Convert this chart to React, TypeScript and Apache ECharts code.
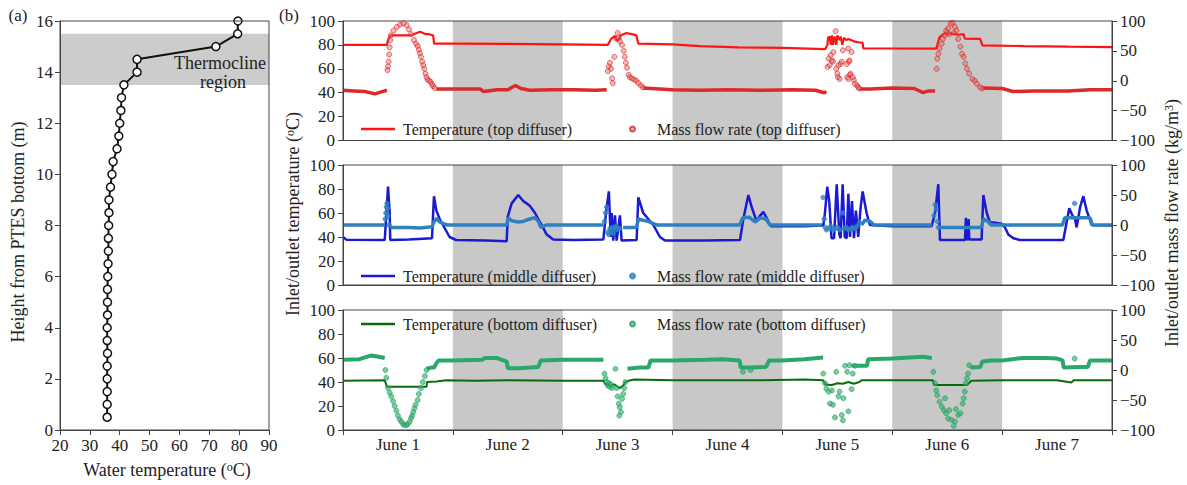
import React, { useEffect, useRef } from "react";
import * as echarts from "echarts";

// ---------- Panel (a): temperature profile ----------
const profileHeight = [0.5, 1, 1.5, 2, 2.5, 3, 3.5, 4, 4.5, 5, 5.5, 6, 6.5, 7, 7.5, 8, 8.5, 9, 9.5, 10, 10.5, 11, 11.5, 12, 12.5, 13, 13.5, 14, 14.5, 15, 15.5, 16];
const profileTemp = [35.8, 35.8, 35.8, 35.8, 35.8, 35.9, 35.8, 35.8, 35.9, 35.9, 35.9, 36.0, 36.1, 36.2, 36.2, 36.3, 36.4, 36.4, 36.9, 37.4, 37.8, 39.1, 39.7, 40.0, 40.4, 40.6, 41.4, 45.8, 45.8, 72.2, 79.5, 79.6];
const thermoclineRange = [13.5, 15.5];

// ---------- Panel (b): time series, x = days since June 1 00:00 ----------
const dayLabels = ["June 1", "June 2", "June 3", "June 4", "June 5", "June 6", "June 7"];
const shadedDays = [[1, 2], [3, 4], [5, 6]];

// top diffuser temperature (°C)
const topTemp = [
  [0, 80], [0.40, 80], [0.41, 84], [0.43, 88], [0.5, 88], [0.62, 88], [0.66, 89.5], [0.7, 91], [0.73, 90], [0.75, 89], [0.78, 89], [0.80, 88.5], [0.82, 88], [0.83, 81],
  [1.0, 81], [1.5, 80.8], [2.0, 80.5], [2.41, 80], [2.44, 85], [2.476, 87.5], [2.49, 84], [2.506, 84], [2.53, 88], [2.58, 90], [2.63, 89], [2.67, 88], [2.688, 81],
  [3.0, 80.5], [3.25, 79], [3.6, 78], [4.0, 77.5], [4.39, 76.5],
  [4.41, 80], [4.415, 86], [4.43, 87], [4.44, 80], [4.45, 88], [4.46, 80], [4.475, 87], [4.49, 80], [4.50, 88], [4.52, 84], [4.53, 87], [4.545, 80], [4.56, 86], [4.58, 84], [4.6, 85], [4.65, 83], [4.7, 82], [4.73, 82], [4.736, 77],
  [5.0, 77], [5.40, 76.8], [5.43, 86.6], [5.47, 89.4], [5.55, 89.4], [5.6, 88.5], [5.65, 89], [5.66, 85.2], [5.8, 85], [5.82, 79.6], [6.2, 79], [6.6, 78.5], [7, 78.2],
];
// top diffuser mass flow rate (kg/m3): dense trail and sparse dots
const topFlowTrail = [
  [0, -16], [0.1, -17], [0.2, -18], [0.29, -22], [0.34, -19], [0.4, -16], [0.405, null],
  [0.85, -14], [1.0, -14], [1.25, -14], [1.28, -18], [1.4, -15], [1.5, -15], [1.57, -8], [1.62, -13], [1.7, -16], [1.9, -15], [2.1, -15], [2.3, -16], [2.40, -15], [2.405, null],
  [2.73, -12], [3.0, -15], [3.25, -16], [3.5, -15], [3.8, -16], [4.1, -15], [4.3, -16], [4.38, -20], [4.40, -18], [4.405, null],
  [4.70, -14], [4.8, -14], [5.0, -12], [5.2, -13], [5.28, -20], [5.33, -17], [5.39, -17], [5.395, null],
  [5.82, -12], [6.0, -13], [6.1, -18], [6.3, -17], [6.6, -17], [6.8, -15], [7, -15],
];
const topFlowDots = [
  [0.405, 18], [0.41, 24], [0.415, 32], [0.42, 44], [0.425, 56], [0.43, 68], [0.435, 76], [0.46, 84], [0.49, 90], [0.52, 94], [0.55, 96], [0.58, 93], [0.60, 86], [0.62, 78],
  [0.646, 68], [0.665, 62], [0.68, 58], [0.69, 52], [0.70, 46], [0.71, 40], [0.72, 32], [0.73, 26], [0.74, 20], [0.75, 12], [0.76, 6], [0.77, 2], [0.785, 0], [0.80, -2], [0.81, -6], [0.82, -9], [0.835, -12],
  [2.41, 16], [2.42, 24], [2.43, 30], [2.44, 20], [2.45, 4], [2.455, -4], [2.47, 40], [2.49, 70], [2.5, 80], [2.51, 72], [2.52, 66], [2.54, 60], [2.555, 50], [2.565, 40], [2.575, 30], [2.585, 22], [2.60, 10], [2.61, 6], [2.63, 4], [2.65, 2], [2.67, 0], [2.69, -4], [2.71, -8], [2.73, -11],
  [4.41, 23], [4.42, 37], [4.43, 26], [4.44, 43], [4.45, 34], [4.46, 32], [4.465, 48], [4.485, 83], [4.49, 20], [4.50, 12], [4.505, 6], [4.51, 26], [4.52, 3], [4.53, 28], [4.54, 32], [4.55, 51], [4.585, 28], [4.59, 6], [4.60, 3], [4.60, 54], [4.605, 32], [4.61, 34], [4.615, 10], [4.62, 12], [4.63, 48], [4.64, 6], [4.65, 1], [4.66, -5], [4.68, -8], [4.69, -11], [4.70, -13],
  [5.404, 20], [5.41, 37], [5.42, 45], [5.43, 54], [5.45, 62], [5.46, 70], [5.48, 76], [5.49, 84], [5.50, 80], [5.51, 88], [5.52, 78], [5.53, 96], [5.55, 97], [5.56, 80], [5.57, 90], [5.585, 84], [5.6, 70], [5.62, 57], [5.635, 45], [5.65, 40], [5.665, 29], [5.68, 20], [5.70, 12], [5.73, 3], [5.75, 0], [5.77, -5], [5.8, -11], [5.82, -13],
];

// middle diffuser temperature (°C)
const midTemp = [
  [0, 40], [0.03, 37.8], [0.38, 37.5], [0.395, 60], [0.41, 82], [0.425, 60], [0.43, 37.5], [0.6, 38], [0.81, 39], [0.828, 74], [0.85, 62], [0.88, 55], [0.91, 50], [0.94, 45], [0.97, 40], [1.03, 37.5],
  [1.3, 37], [1.49, 36.5], [1.50, 57], [1.535, 68], [1.596, 75], [1.64, 70], [1.687, 67], [1.70, 66], [1.748, 60], [1.778, 55], [1.82, 48], [1.854, 42], [1.914, 38], [2.1, 37.5],
  [2.37, 38], [2.394, 60], [2.42, 78], [2.437, 40], [2.446, 60], [2.46, 37], [2.476, 58], [2.491, 37], [2.521, 58], [2.536, 37], [2.673, 37.5], [2.688, 73], [2.733, 60], [2.779, 55], [2.824, 50], [2.855, 45], [2.885, 40], [2.931, 37],
  [3.3, 37], [3.614, 37.5], [3.644, 55], [3.69, 75], [3.72, 65], [3.75, 57], [3.765, 53], [3.79, 57], [3.826, 61], [3.856, 56], [3.887, 50], [3.9, 49], [4.2, 49], [4.372, 49.5],
  [4.387, 60], [4.408, 82], [4.426, 70], [4.447, 39], [4.47, 39], [4.494, 84], [4.518, 42], [4.53, 39], [4.548, 84], [4.567, 40], [4.585, 39], [4.6, 76], [4.615, 40], [4.633, 70], [4.651, 39], [4.669, 62], [4.69, 40], [4.711, 64], [4.73, 78], [4.766, 60], [4.796, 50],
  [5.0, 49], [5.358, 49], [5.389, 60], [5.419, 84], [5.434, 37.5], [5.662, 37.5], [5.67, 56], [5.68, 38], [5.69, 38], [5.695, 55], [5.70, 38], [5.813, 38], [5.829, 75], [5.86, 60], [5.89, 52], [5.92, 52],
  [5.996, 51], [6.026, 48], [6.056, 42], [6.102, 39], [6.162, 37.5], [6.557, 37.5], [6.611, 64], [6.64, 58], [6.663, 55], [6.678, 48], [6.71, 65], [6.739, 74], [6.77, 62], [6.815, 50], [7, 49.5],
];
const midFlowTrail = [
  [0, 0], [0.38, 0], [0.385, null],
  [0.43, -4], [0.6, -4], [0.7, -5], [0.81, -3], [0.83, 6], [0.853, 11], [0.88, 5], [0.92, 2], [0.95, 0], [1.49, 0], [1.505, 12], [1.535, 7], [1.596, 5], [1.64, 6], [1.70, 10], [1.748, 12], [1.778, 6], [1.80, -4], [1.85, 0], [2.37, 0], [2.375, null],
  [2.55, -4], [2.67, -4], [2.69, 10], [2.73, 8], [2.78, 6], [2.83, 2], [2.86, 0], [3.61, 0], [3.64, 12], [3.7, 13], [3.75, 5], [3.8, 12], [3.85, 10], [3.887, 0], [4.36, 0], [4.365, null],
  [4.72, 0], [4.75, 8], [4.8, 6], [4.83, 0], [5.36, 0], [5.365, null],
  [5.43, -4], [5.81, -4], [5.83, 10], [5.87, 6], [5.9, 0], [6.55, 0], [6.57, 12], [6.8, 12], [6.82, 0], [7, 0],
];
const midFlowDots = [
  [0.385, 10], [0.39, 20], [0.395, 30], [0.40, 36], [0.405, 28], [0.41, 15], [0.42, 0],
  [2.38, 6], [2.39, 20], [2.40, 30], [2.41, -12], [2.42, -16], [2.43, -6], [2.44, -10], [2.45, -4], [2.46, -14], [2.47, -6], [2.48, -2], [2.49, -8], [2.50, -4], [2.52, -6],
  [4.37, 46], [4.38, 10], [4.39, -4], [4.40, -8], [4.42, -6], [4.44, -2], [4.46, -8], [4.48, -6], [4.50, -4], [4.52, -8], [4.55, 20], [4.56, -6], [4.58, -4], [4.60, -8], [4.62, -6], [4.64, -4], [4.66, -6], [4.68, -2], [4.70, 4],
  [5.38, 16], [5.39, 34], [5.40, 26], [5.41, 6], [5.42, -4],
  [6.66, 36],
];

// bottom diffuser temperature (°C)
const botTemp = [
  [0, 41], [0.38, 41.5], [0.40, 36], [0.6, 36], [0.76, 36], [0.765, 40], [0.85, 40.5], [0.94, 41.5], [1.2, 41], [1.5, 41.5], [2.0, 41], [2.37, 41],
  [2.39, 38], [2.43, 37], [2.47, 38], [2.50, 36], [2.52, 35], [2.55, 37], [2.57, 40], [2.6, 41], [2.65, 42], [3.0, 41.5], [3.5, 41.5], [3.8, 41.5], [4.2, 42], [4.37, 41.5],
  [4.39, 38], [4.45, 37.5], [4.5, 39], [4.55, 38.5], [4.6, 40], [4.65, 38.5], [4.7, 40], [4.72, 41.5], [5.0, 41.5], [5.37, 41.5],
  [5.38, 37.5], [5.68, 37.5], [5.72, 41], [6.0, 41.5], [6.5, 41.5], [6.63, 39.5], [6.65, 41.5], [7, 41.5],
];
const botFlowTrail = [
  [0, 17], [0.15, 18], [0.25, 24], [0.3, 23], [0.38, 20], [0.385, null],
  [0.76, 2], [0.8, 4], [0.83, 4], [0.845, 10], [0.87, 16], [1.0, 16], [1.27, 17], [1.29, 20], [1.4, 20], [1.46, 16], [1.49, 14], [1.5, 3], [1.6, 3], [1.7, 4], [1.778, 5], [1.80, 16], [2.0, 17], [2.2, 17], [2.37, 17], [2.375, null],
  [2.59, 2], [2.7, 4], [2.78, 4], [2.80, 16], [3.0, 16], [3.3, 17], [3.45, 18], [3.61, 16], [3.62, 4], [3.7, 4], [3.85, 5], [3.88, 16], [4.0, 16], [4.2, 18], [4.37, 21], [4.375, null],
  [4.63, 7], [4.77, 7], [4.78, 18], [5.0, 19], [5.28, 22], [5.36, 20], [5.365, null],
  [5.71, 4], [5.80, 5], [5.82, 14], [5.9, 16], [6.0, 16], [6.19, 20], [6.4, 20], [6.5, 19], [6.55, 16], [6.56, 4], [6.7, 5], [6.78, 5], [6.80, 16], [7, 16],
];
const botFlowDots = [
  [0.386, 0], [0.395, -13], [0.41, -30], [0.425, -38], [0.44, -44], [0.456, -52], [0.47, -60], [0.486, -68], [0.50, -76], [0.516, -82], [0.53, -86], [0.547, -90], [0.56, -92], [0.577, -92], [0.59, -90],
  [0.607, -86], [0.62, -80], [0.63, -76], [0.64, -70], [0.65, -64], [0.66, -58], [0.68, -50], [0.69, -40], [0.71, -30], [0.727, -20], [0.745, -10], [0.76, 0],
  [2.38, -6], [2.39, -14], [2.40, -20], [2.41, -26], [2.42, -22], [2.43, -28], [2.44, -24], [2.45, -30], [2.48, 2], [2.49, -30], [2.50, -44], [2.51, -56], [2.515, -76], [2.52, -62], [2.53, -70], [2.54, -48], [2.55, -40], [2.56, -30], [2.57, -20],
  [3.64, -3], [3.71, 0],
  [4.372, -6], [4.387, -22], [4.40, -31], [4.42, -36], [4.433, -56], [4.45, -34], [4.46, -58], [4.478, -79], [4.49, -3], [4.51, -44], [4.52, -36], [4.54, -75], [4.55, -84], [4.555, -47], [4.57, 7], [4.59, -3], [4.60, -69], [4.61, 8], [4.63, -32], [4.64, -6], [4.66, 7],
  [5.374, -3], [5.39, -22], [5.40, -34], [5.41, -42], [5.43, -53], [5.45, -61], [5.47, -67], [5.48, -47], [5.49, -72], [5.51, -81], [5.52, -67], [5.54, -83], [5.56, -93], [5.57, -86], [5.58, -65], [5.60, -75], [5.62, -72], [5.64, -56], [5.65, -47], [5.66, -36], [5.67, -22], [5.68, -14], [5.69, -6], [5.70, 8],
  [6.66, 19],
];

const FONT = '"Liberation Serif", "Times New Roman", serif';
const INK = "#222";
const FRAME = "#444";

const tickLabel = { fontFamily: FONT, fontSize: 17, color: INK };
const axisLine = { show: true, lineStyle: { color: FRAME, width: 1 } };
const tickOut = { show: true, length: 5, inside: false, lineStyle: { color: FRAME } };
const minus = (v: number) => String(v).replace("-", "\u2212");

function shadeSeries(gi: number) {
  return {
    type: "line", xAxisIndex: gi, yAxisIndex: 2 * gi - 1, data: [[0, 0]], symbol: "none", silent: true,
    lineStyle: { opacity: 0 }, z: 1,
    markArea: {
      silent: true, itemStyle: { color: "#c8c8c8" },
      data: shadedDays.map(([a, b]) => [{ xAxis: a }, { xAxis: b }]),
    },
  };
}

function legendPair(top: number, lineName: string, dotName: string) {
  return [
    {
      data: [{ name: lineName, icon: "rect" }], left: 356, top, itemWidth: 34, itemHeight: 2.5, selectedMode: false,
      textStyle: { fontFamily: FONT, fontSize: 16, color: INK, padding: [0, 0, 0, 3] },
    },
    {
      data: [{ name: dotName, icon: "circle" }], left: 624, top, itemWidth: 5, itemHeight: 5, selectedMode: false,
      textStyle: { fontFamily: FONT, fontSize: 16, color: INK, padding: [0, 0, 0, 17] },
    },
  ];
}

function text(x: number, y: number, t: string, size: number, rotation = 0, rich?: any) {
  return {
    type: "text", x, y, rotation, silent: true, z: 100,
    style: {
      text: t, fontFamily: FONT, fontSize: size, fill: INK,
      align: "center", verticalAlign: "middle", textAlign: "center", textVerticalAlign: "middle",
      rich,
    },
  };
}
const supRich = { s: { fontFamily: FONT, fontSize: 12, fill: INK, verticalAlign: "top", lineHeight: 14 } };

const bGrids = [
  { top: 21, height: 119.5 },
  { top: 165, height: 120 },
  { top: 310, height: 120 },
];

function buildOption() {
  const grid: any[] = [
    { left: 60, top: 21, width: 209, height: 409, show: true, borderColor: FRAME, borderWidth: 1, backgroundColor: "transparent", z: 10 },
    ...bGrids.map((g) => ({ left: 343, top: g.top, width: 769, height: g.height, show: true, borderColor: FRAME, borderWidth: 1, backgroundColor: "transparent", z: 10 })),
  ];

  const xAxis: any[] = [
    { gridIndex: 0, type: "value", min: 20, max: 90, interval: 10, axisLine, axisTick: tickOut, axisLabel: { ...tickLabel, margin: 7 }, splitLine: { show: false }, z: 10 },
    { gridIndex: 1, type: "value", min: 0, max: 7, interval: 1, axisLine, axisTick: { show: false }, axisLabel: { show: false }, splitLine: { show: false }, z: 10 },
    { gridIndex: 2, type: "value", min: 0, max: 7, interval: 1, axisLine, axisTick: { show: false }, axisLabel: { show: false }, splitLine: { show: false }, z: 10 },
    { gridIndex: 3, type: "value", min: 0, max: 7, interval: 1, position: "bottom", axisLine, axisTick: tickOut, axisLabel: { show: false }, splitLine: { show: false }, z: 10 },
    { gridIndex: 3, type: "category", data: dayLabels, boundaryGap: true, position: "bottom", axisLine: { show: false }, axisTick: { show: false }, axisLabel: { ...tickLabel, margin: 6 }, splitLine: { show: false }, z: 10 },
  ];

  const yAxis: any[] = [
    { gridIndex: 0, type: "value", min: 0, max: 16, interval: 2, axisLine, axisTick: tickOut, axisLabel: { ...tickLabel, margin: 7 }, splitLine: { show: false }, z: 10 },
  ];
  [1, 2, 3].forEach((gi) => {
    yAxis.push({ gridIndex: gi, type: "value", position: "left", min: 0, max: 100, interval: 20, axisLine, axisTick: tickOut, axisLabel: { ...tickLabel, margin: 8 }, splitLine: { show: false }, z: 10 });
    yAxis.push({ gridIndex: gi, type: "value", position: "right", min: -100, max: 100, interval: 50, axisLine, axisTick: tickOut, axisLabel: { ...tickLabel, margin: 8, formatter: minus }, splitLine: { show: false }, z: 10 });
  });

  const lineS = (name: string, gi: number, yi: number, data: any[], color: string, width: number, z: number) => ({
    name, type: "line", xAxisIndex: gi, yAxisIndex: yi, data, symbol: "none", showSymbol: false,
    lineStyle: { color, width }, itemStyle: { color }, z, connectNulls: false,
  });
  const dotS = (name: string, gi: number, yi: number, data: any[], fill: string, border: string, size: number) => ({
    name, type: "scatter", xAxisIndex: gi, yAxisIndex: yi, data, symbol: "circle", symbolSize: size,
    itemStyle: { color: fill, borderColor: border, borderWidth: 0.8 }, z: 5,
  });

  const series: any[] = [
    {
      type: "line", xAxisIndex: 0, yAxisIndex: 0, data: [[20, 0]], symbol: "none", silent: true, lineStyle: { opacity: 0 }, z: 1,
      markArea: { silent: true, itemStyle: { color: "#cccccc" }, data: [[{ yAxis: thermoclineRange[0] }, { yAxis: thermoclineRange[1] }]] },
    },
    {
      name: "profile", type: "line", xAxisIndex: 0, yAxisIndex: 0, clip: false,
      data: profileTemp.map((t, i) => [t, profileHeight[i]]),
      symbol: "circle", symbolSize: 8, showSymbol: true,
      lineStyle: { color: "#111", width: 2 }, itemStyle: { color: "#fff", borderColor: "#111", borderWidth: 1.5 }, z: 3,
    },
    shadeSeries(1), shadeSeries(2), shadeSeries(3),

    lineS("Temperature (top diffuser)", 1, 1, topTemp, "#ff1414", 2.2, 3),
    lineS("topTrail", 1, 2, topFlowTrail, "#dc2a2a", 3.5, 4),
    dotS("Mass flow rate (top diffuser)", 1, 2, topFlowDots, "rgba(235,90,90,0.55)", "#d42424", 5),

    lineS("Temperature (middle diffuser)", 2, 3, midTemp, "#1a1ad2", 2.5, 3),
    lineS("midTrail", 2, 4, midFlowTrail, "#2f80bf", 3.5, 4),
    dotS("Mass flow rate (middle diffuser)", 2, 4, midFlowDots, "#2f86c4", "#2f80bf", 4.5),

    lineS("Temperature (bottom diffuser)", 3, 5, botTemp, "#0b6b0b", 2, 3),
    lineS("botTrail", 3, 6, botFlowTrail, "#2aa86a", 4, 4),
    dotS("Mass flow rate (bottom diffuser)", 3, 6, botFlowDots, "rgba(50,175,110,0.8)", "#22a060", 5),
  ];

  const legend = [
    ...legendPair(116, "Temperature (top diffuser)", "Mass flow rate (top diffuser)"),
    ...legendPair(263, "Temperature (middle diffuser)", "Mass flow rate (middle diffuser)"),
    ...legendPair(311, "Temperature (bottom diffuser)", "Mass flow rate (bottom diffuser)"),
  ];

  const graphic = [
    text(18, 15, "(a)", 17),
    text(289, 15, "(b)", 17),
    text(220, 63, "Thermocline", 18),
    text(223, 82, "region", 18),
    text(18, 232, "Height from PTES bottom (m)", 18, Math.PI / 2),
    text(167, 470, "Water temperature ({s|o}C)", 18, 0, supRich),
    text(293, 214, "Inlet/outlet temperature ({s|o}C)", 18, Math.PI / 2, supRich),
    text(1172, 223, "Inlet/outlet mass flow rate (kg/m{s|3})", 18, Math.PI / 2, supRich),
  ];

  return { animation: false, backgroundColor: "#fff", grid, xAxis, yAxis, series, legend, graphic };
}

export default function App() {
  const ref = useRef<HTMLDivElement>(null);
  useEffect(() => {
    if (!ref.current) return;
    const chart = echarts.init(ref.current, null, { renderer: "svg" });
    chart.setOption(buildOption() as any);
    return () => chart.dispose();
  }, []);
  return <div ref={ref} style={{ position: "fixed", left: 0, top: 0, width: 1187, height: 485, background: "#fff" }} />;
}
